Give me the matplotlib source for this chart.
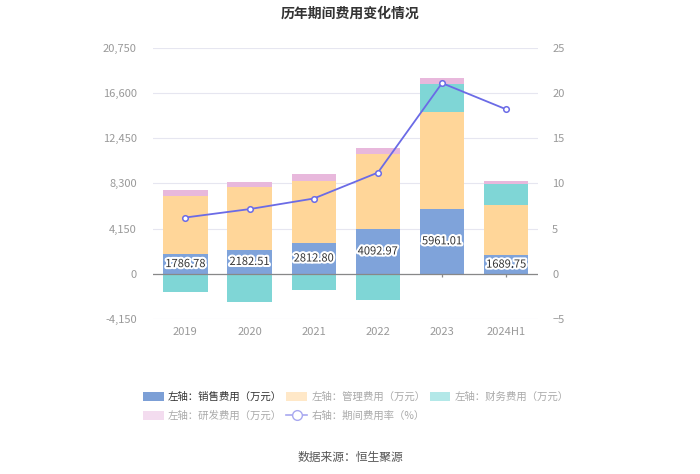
import numpy as np
import matplotlib.pyplot as plt
import matplotlib.patheffects as pe
from matplotlib.patches import Patch
from matplotlib.lines import Line2D

plt.rcParams['font.family'] = ['Noto Sans CJK SC', 'DejaVu Sans']

# 数据
years = ['2019', '2020', '2021', '2022', '2023', '2024H1']
sales = [1786.78, 2182.51, 2812.80, 4092.97, 5961.01, 1689.75]
mgmt = [5400, 5780, 5700, 6930, 8915, 4646]
finance = [-1680, -2630, -1530, -2450, 2570, 1930]
rnd = [520, 430, 610, 490, 550, 300]
rate = [6.23, 7.16, 8.33, 11.2, 21.1, 18.2]

left_ticks = [-4150, 0, 4150, 8300, 12450, 16600, 20750]
right_ticks = [-5, 0, 5, 10, 15, 20, 25]

c_sales = '#7fa3da'
c_mgmt = '#ffd699'
c_fin = '#7fd6d6'
c_rnd = '#e8b8dc'
c_line = '#6b6be6'
c_tick = '#999999'

fig = plt.figure(figsize=(7, 4.74), dpi=100)
ax = fig.add_axes([0.219, 0.327, 0.55, 0.572])
ax2 = ax.twinx()

x = np.arange(len(years))
w = 0.69
sales = np.array(sales)
mgmt = np.array(mgmt)
finance = np.array(finance)
rnd = np.array(rnd)

ax.bar(x, sales, w, color=c_sales, zorder=2)
ax.bar(x, mgmt, w, bottom=sales, color=c_mgmt, zorder=2)
fin_bottom = np.where(finance > 0, sales + mgmt, 0)
ax.bar(x, finance, w, bottom=fin_bottom, color=c_fin, zorder=2)
top = sales + mgmt + np.where(finance > 0, finance, 0)
ax.bar(x, rnd, w, bottom=top, color=c_rnd, zorder=2)

for xi, v in zip(x, sales):
    ax.text(xi, v / 2, f'{v:.2f}', ha='center', va='center', fontsize=8,
            color='#333333', zorder=5,
            path_effects=[pe.withStroke(linewidth=3, foreground='white')])

ax.set_ylim(-4150, 20750)
ax.set_yticks(left_ticks)
ax.set_yticklabels([f'{t:,}' for t in left_ticks])
ax.set_xlim(-0.5, len(years) - 0.5)
ax.set_xticks(x)
ax.set_xticklabels(years)
ax.grid(axis='y', color='#e6e6f0', linewidth=0.8, zorder=0)
ax.axhline(0, color='#888888', linewidth=0.9, zorder=3)
# 零线下方的小刻度
ax.vlines(x, -330, 0, color='#888888', linewidth=0.9, zorder=1)
for s in ax.spines.values():
    s.set_visible(False)
for s in ax2.spines.values():
    s.set_visible(False)
ax.tick_params(axis='y', length=0, labelsize=8, colors=c_tick, pad=12)
ax.tick_params(axis='x', length=0, labelsize=8, colors=c_tick, pad=6)

ax2.plot(x, rate, color=c_line, linewidth=1.3, marker='o', markersize=4,
         markerfacecolor='white', markeredgecolor=c_line, markeredgewidth=1.1, zorder=4)
ax2.set_ylim(-5, 25)
ax2.set_yticks(right_ticks)
ax2.tick_params(axis='y', length=0, labelsize=8, colors=c_tick, pad=10)

fig.text(0.5, 0.972, '历年期间费用变化情况', ha='center', va='center',
         fontsize=10, fontweight='bold', color='#333333')
fig.text(0.5, 0.034, '数据来源：恒生聚源', ha='center', va='center',
         fontsize=8.5, color='#555555')

handles = [
    Patch(facecolor='#7c9fd6', edgecolor='none'),
    Patch(facecolor='#f3dcef', edgecolor='none'),
    Patch(facecolor='#ffe8c8', edgecolor='none'),
    Line2D([0], [0], color='#a8a8f0', marker='o', markerfacecolor='white',
           markeredgecolor='#a8a8f0', markersize=7, linewidth=1.2),
    Patch(facecolor='#b3e8e8', edgecolor='none'),
]
labels = ['左轴：销售费用（万元）', '左轴：研发费用（万元）', '左轴：管理费用（万元）',
          '右轴：期间费用率（%）', '左轴：财务费用（万元）']
leg = fig.legend(handles, labels, ncol=3, loc='upper left',
                 bbox_to_anchor=(0.191, 0.193), frameon=False, fontsize=7.5,
                 handlelength=2.0, handleheight=1.0, columnspacing=0.4,
                 handletextpad=0.4, labelspacing=0.85)
for i, t in enumerate(leg.get_texts()):
    t.set_color('#333333' if i == 0 else '#aaaaaa')

fig.savefig('out.png', dpi=100)
